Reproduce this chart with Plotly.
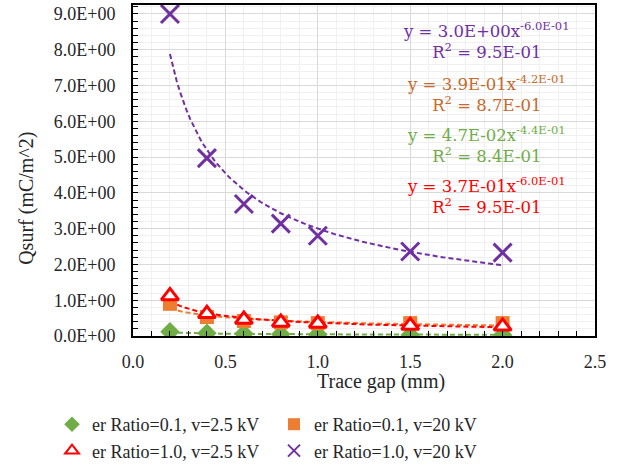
import numpy as np
import plotly.graph_objects as go

gap_mm = [0.2, 0.4, 0.6, 0.8, 1.0, 1.5, 2.0]
q_r01_v25 = [0.12, 0.08, 0.06, 0.05, 0.04, 0.03, 0.03]
q_r01_v20 = [0.90, 0.53, 0.42, 0.38, 0.36, 0.36, 0.36]
q_r10_v25 = [1.12, 0.62, 0.46, 0.38, 0.35, 0.29, 0.27]
q_r10_v20 = [9.00, 4.97, 3.69, 3.14, 2.80, 2.36, 2.33]

y_tick_vals = [0, 1, 2, 3, 4, 5, 6, 7, 8, 9]
y_tick_text = ["0.0E+00", "1.0E+00", "2.0E+00", "3.0E+00", "4.0E+00",
               "5.0E+00", "6.0E+00", "7.0E+00", "8.0E+00", "9.0E+00"]

names = ["er Ratio=0.1, v=2.5 kV", "er Ratio=0.1, v=20 kV",
         "er Ratio=1.0, v=2.5 kV", "er Ratio=1.0, v=20 kV"]
# power-law trendline coefficients y = a * x^b (as shown on chart)
fit_a = [4.7e-02, 3.9e-01, 3.7e-01, 3.0e+00]
fit_b = [-0.44, -0.42, -0.60, -0.60]
eq_text = ["y = 4.7E-02x<sup>-4.4E-01</sup><br>R<sup>2</sup> = 8.4E-01",
           "y = 3.9E-01x<sup>-4.2E-01</sup><br>R<sup>2</sup> = 8.7E-01",
           "y = 3.7E-01x<sup>-6.0E-01</sup><br>R<sup>2</sup> = 9.5E-01",
           "y = 3.0E+00x<sup>-6.0E-01</sup><br>R<sup>2</sup> = 9.5E-01"]
eq_y = [5.35, 6.79, 3.92, 8.25]
eq_col = ["#70AD47", "#C8692A", "#FF0000", "#7030A0"]

line_cols = ["#70AD47", "#ED7D31", "#FF0000", "#7030A0"]
series = [q_r01_v25, q_r01_v20, q_r10_v25, q_r10_v20]
markers = [
    dict(symbol="diamond", size=15, color="#70AD47"),
    dict(symbol="square", size=14, color="#ED7D31"),
    dict(symbol="triangle-up", size=15, color="white", line=dict(color="#FF0000", width=3)),
    dict(symbol="x-thin-open", size=18, color="#7030A0", line=dict(color="#7030A0", width=3)),
]

FONT = "Liberation Serif"
TXT = "#262626"
fig = go.Figure()

xs = np.linspace(min(gap_mm), max(gap_mm), 100)
for i in range(4):
    fig.add_trace(go.Scatter(x=xs, y=fit_a[i] * xs ** fit_b[i], mode="lines",
                             line=dict(color=line_cols[i], width=2, dash="5px,3px"),
                             showlegend=False, hoverinfo="skip"))
for i in range(4):
    fig.add_trace(go.Scatter(x=gap_mm, y=series[i], mode="markers", name=names[i],
                             marker=markers[i]))

for i in range(4):
    fig.add_annotation(x=1.915, y=eq_y[i], xref="x", yref="y", text=eq_text[i],
                       showarrow=False, align="center", yanchor="middle",
                       font=dict(family="DejaVu Serif", size=16.5, color=eq_col[i]))

# axis titles
fig.add_annotation(text="Trace gap (mm)", xref="paper", yref="paper",
                   x=(381 - 133) / 462, y=-(382 - 336) / 333, showarrow=False,
                   xanchor="center", yanchor="middle",
                   font=dict(family=FONT, size=20, color=TXT))
fig.add_annotation(text="Qsurf (mC/m^2)", xref="paper", yref="paper",
                   x=-(133 - 27) / 462, y=(336 - 198) / 333, showarrow=False,
                   textangle=-90, xanchor="center", yanchor="middle",
                   font=dict(family=FONT, size=20, color=TXT))

axis_common = dict(showline=True, linecolor="black", linewidth=2, mirror=True,
                   gridcolor="#D9D9D9", gridwidth=1, zeroline=False,
                   tickfont=dict(family=FONT, size=18, color=TXT),
                   ticks="inside", ticklen=5, tickcolor="black")
fig.update_xaxes(range=[0, 2.5], dtick=0.5, tickformat=".1f", ticklabelstandoff=8,
                 minor=dict(dtick=0.1, showgrid=True, gridcolor="#F0F0F0", ticks="inside", ticklen=5, tickcolor="black"),
                 **axis_common)
fig.update_yaxes(range=[0, 9.25], tickmode="array", tickvals=y_tick_vals, ticktext=y_tick_text,
                 ticklabelstandoff=12,
                 minor=dict(dtick=0.2, showgrid=True, gridcolor="#F0F0F0", ticks="inside", ticklen=5, tickcolor="black"),
                 **axis_common)

fig.update_layout(
    width=626, height=465,
    margin=dict(l=133, r=31, t=3, b=129),
    paper_bgcolor="white", plot_bgcolor="white",
    font=dict(family=FONT, size=18, color=TXT),
    legend=dict(orientation="h", xref="container", yref="container",
                x=52 / 626, y=1 - 406 / 465, xanchor="left", yanchor="top",
                entrywidth=177, entrywidthmode="pixels",
                font=dict(family=FONT, size=18, color=TXT),
                itemsizing="constant", tracegroupgap=0),
)
fig.write_html("out.html", config={"displayModeBar": False},
               post_script="document.body.style.margin='0';document.body.style.padding='0';")
